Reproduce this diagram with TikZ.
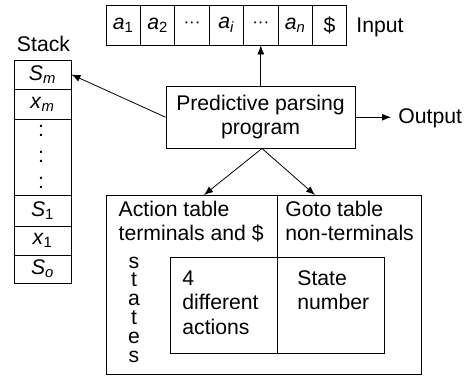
\documentclass[tikz,border=0pt]{standalone}
\usepackage{fontspec}
\setmainfont{Liberation Sans}
\usetikzlibrary{arrows.meta}
\newcommand{\mysub}[2]{\textit{#1}\textsubscript{#2}}
\newcommand{\mydots}{{\fontsize{17}{17}\selectfont\textperiodcentered\textperiodcentered\textperiodcentered}}
\begin{document}
\begin{tikzpicture}[x=1pt,y=-1pt,
  font=\fontsize{21.2}{24.3}\selectfont,
  every node/.style={line width=0.8pt},
  cell/.style={draw, minimum width=34.4pt, minimum height=40pt, inner sep=0pt},
  scell/.style={draw, minimum width=57pt, inner sep=0pt},
  lbl/.style={inner sep=0pt, anchor=base west, align=left},
  letter/.style={inner sep=0pt, anchor=base, text height=11pt, text depth=0pt},
  arr/.style={-{Latex[length=9pt,width=7pt]}, line width=0.8pt}]
\useasboundingbox (0,0) rectangle (466,375);
% input tape
\node[cell] (c1) at (123.2,25) {\mysub{a}{1}};
\node[cell] (c2) at (157.6,25) {\mysub{a}{2}};
\node[cell] (c3) at (192.0,25) {\mydots};
\node[cell] (c4) at (226.4,25) {\mysub{a}{\textit{i}}};
\node[cell] (c5) at (260.8,25) {\mydots};
\node[cell] (c6) at (295.2,25) {\mysub{a}{\textit{n}}};
\node[cell] (c7) at (329.6,25) {\$};
\node[lbl] (inp) at (356,32) {Input};
% program
\node[draw, minimum width=189pt, minimum height=62.5pt, inner sep=0pt, align=center] (prog) at (260.5,117.25) {Predictive parsing\\program};
\node[lbl, inner xsep=7pt] (out) at (391,123) {Output};
% stack
\node[lbl, anchor=base] (stk) at (43.5,51.7) {Stack};
\node[scell, minimum height=29pt] (sm) at (42.5,74.5) {\mysub{S}{\textit{m}}};
\node[scell, minimum height=30pt] (xm) at (42.5,104) {\mysub{x}{\textit{m}}};
\node[scell, minimum height=76pt] (sd) at (42.5,157) {};
\node[scell, minimum height=31pt] (s1) at (42.5,210.5) {\mysub{S}{1}};
\node[scell, minimum height=29pt] (x1) at (42.5,240.5) {\mysub{x}{1}};
\node[scell, minimum height=28pt] (so) at (42.5,269) {\mysub{S}{\textit{o}}};
\node[lbl, anchor=base] (d1) at (41,136.5) {:};
\node[lbl, anchor=base] (d2) at (41,162.5) {:};
\node[lbl, anchor=base] (d3) at (41,188.5) {:};
% tables
\node[draw, minimum width=315pt, minimum height=179pt, inner sep=0pt] (tbl) at (263.5,284.5) {};
\node[draw, minimum width=214pt, minimum height=96pt, inner sep=0pt] (inner) at (277,305) {};
\draw[line width=0.8pt] (tbl.north -| inner.center) -- (inner.south);
\node[lbl] (act) at (118.3,240.5) {Action table\\terminals and \$};
\node[lbl] (goto) at (285,240.5) {Goto table\\non-terminals};
\node[lbl] (four) at (182,334) {4\\different\\actions};
\node[lbl] (stn) at (297,309.5) {State\\number};
\foreach \l [count=\i] in {s,t,a,t,e,s}
  \node[letter] (st\i) at (134,{268+18.8*(\i-1)}) {\l};
% connectors
\coordinate (pb) at (262,148.5);
\coordinate (ta) at (204,195);
\coordinate (tg) at (315,195);
\draw[arr] (prog.north -| c5.south) -- (c5.south);
\draw[arr] (prog.east) -- (prog.east -| out.west);
\draw[arr] (prog.west) -- (sm.east);
\draw[arr] (pb) -- (ta);
\draw[arr] (pb) -- (tg);
\end{tikzpicture}
\end{document}
